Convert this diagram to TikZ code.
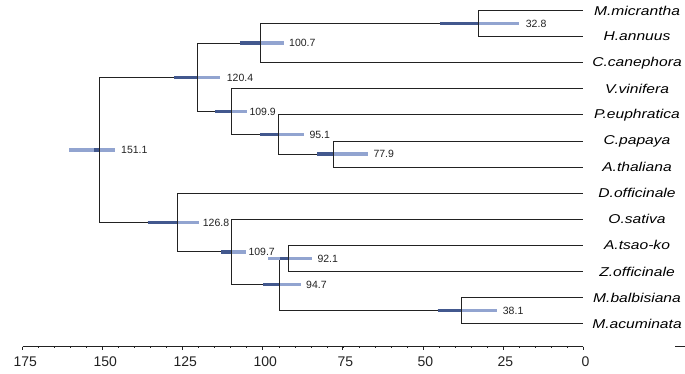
\documentclass[tikz,border=0pt]{standalone}
\usepackage{fontspec}
\setmainfont{Liberation Sans}
\usepackage{graphicx}
\definecolor{barlight}{RGB}{146,164,208}
\definecolor{bardark}{RGB}{66,88,142}
\definecolor{treeline}{RGB}{34,34,34}
\begin{document}
\begin{tikzpicture}[x=1pt,y=-1pt,
  branch/.style={draw=treeline,line width=0.85pt},
  leaflabel/.style={anchor=center,inner sep=0pt,font=\fontsize{12.8}{14}\selectfont\itshape,text=black},
  agelabel/.style={anchor=west,inner sep=0pt,font=\fontsize{10.5}{12}\selectfont,text=treeline},
  ticklabel/.style={anchor=center,inner sep=0pt,font=\fontsize{14}{16}\selectfont,text=treeline},
  hpdlight/.style={draw=barlight,line width=3.2pt},
  hpddark/.style={draw=bardark,line width=3.2pt}]
\useasboundingbox (0,0) rectangle (685,374);

% leaves
\foreach \nm/\txt/\i in {mm/M.micrantha/0, ha/H.annuus/1, cc/C.canephora/2, vv/V.vinifera/3,
  pe/P.euphratica/4, cp/C.papaya/5, at/A.thaliana/6, do/D.officinale/7, os/O.sativa/8,
  tk/A.tsao-ko/9, zo/Z.officinale/10, mb/M.balbisiana/11, ma/M.acuminata/12}{
  \coordinate (\nm-e) at (583,{10.5+26.1*\i});
  \node[leaflabel] (\nm) at (637,{10.5+26.1*\i}) {\scalebox{1.22}[1]{\txt}};
}

% internal nodes
\coordinate (n328)  at (478.0,23.55);
\coordinate (n1007) at (260.6,43.1);
\coordinate (n779)  at (333.6,154.05);
\coordinate (n951)  at (278.5,134.5);
\coordinate (n1099) at (231.1,111.65);
\coordinate (n1204) at (197.5,77.4);
\coordinate (n381)  at (461.0,310.65);
\coordinate (n921)  at (288.1,258.45);
\coordinate (n947)  at (279.8,284.55);
\coordinate (n1097) at (231.7,251.9);
\coordinate (n1268) at (177.0,222.55);
\coordinate (n1511) at (99.2,150.0);

% tree connectors
\draw[branch] (n328) |- (mm-e);
\draw[branch] (n328) |- (ha-e);
\draw[branch] (n1007) |- (n328);
\draw[branch] (n1007) |- (cc-e);
\draw[branch] (n779) |- (cp-e);
\draw[branch] (n779) |- (at-e);
\draw[branch] (n951) |- (pe-e);
\draw[branch] (n951) |- (n779);
\draw[branch] (n1099) |- (vv-e);
\draw[branch] (n1099) |- (n951);
\draw[branch] (n1204) |- (n1007);
\draw[branch] (n1204) |- (n1099);
\draw[branch] (n381) |- (mb-e);
\draw[branch] (n381) |- (ma-e);
\draw[branch] (n921) |- (tk-e);
\draw[branch] (n921) |- (zo-e);
\draw[branch] (n947) |- (n921);
\draw[branch] (n947) |- (n381);
\draw[branch] (n1097) |- (os-e);
\draw[branch] (n1097) |- (n947);
\draw[branch] (n1268) |- (do-e);
\draw[branch] (n1268) |- (n1097);
\draw[branch] (n1511) |- (n1204);
\draw[branch] (n1511) |- (n1268);

% HPD bars (drawn over the branches; node tick redrawn on top)
\newcommand{\hpdbar}[5]{%
  \draw[hpdlight] (#2,#1) -- (#3,#1);
  \draw[hpddark] (#4,#1) -- (#5,#1);
  \draw[branch] (#5,#1-2) -- (#5,#1+2);
}
\hpdbar{23.55}{440}{519.3}{440}{478}
\hpdbar{43.1}{240}{284}{240}{260.6}
\hpdbar{77.4}{174}{220}{174}{197.5}
\hpdbar{111.65}{215}{247.3}{215}{231.1}
\hpdbar{134.5}{260}{304}{260}{278.5}
\hpdbar{154.05}{317.3}{368.3}{317.3}{333.6}
\hpdbar{150.0}{69.3}{115}{94}{99.2}
\hpdbar{222.55}{147.7}{199}{147.7}{177}
\hpdbar{251.9}{221}{245.7}{221}{231.7}
\hpdbar{258.45}{268.3}{312.3}{279.8}{288.1}
\hpdbar{284.55}{263.3}{300.7}{263.3}{279.8}
\hpdbar{310.65}{437.7}{496.7}{437.7}{461}

% age labels
\node[agelabel] (a328)  at (525.7,23.55) {32.8};
\node[agelabel] (a1007) at (289,43.1) {100.7};
\node[agelabel] (a1204) at (226.7,77.4) {120.4};
\node[agelabel] (a1099) at (249.3,111.65) {109.9};
\node[agelabel] (a951)  at (309.3,134.5) {95.1};
\node[agelabel] (a779)  at (373.3,154.05) {77.9};
\node[agelabel] (a1511) at (121,150.0) {151.1};
\node[agelabel] (a1268) at (202.7,222.55) {126.8};
\node[agelabel] (a1097) at (248.3,251.9) {109.7};
\node[agelabel] (a921)  at (317.3,258.45) {92.1};
\node[agelabel] (a947)  at (306,284.55) {94.7};
\node[agelabel] (a381)  at (502.7,310.65) {38.1};

% axis
\coordinate (ax0) at (22.7,346.7);
\coordinate (ax1) at (583,346.7);
\draw[branch] (ax0) -- (ax1);
\foreach \t in {0,5,...,175}{
  \draw[draw=treeline,line width=0.7pt] ({583-3.2016*\t},346.7) -- ++(0,1.6);
}
\foreach \t in {0,25,...,175}{
  \draw[draw=treeline,line width=0.8pt] ({583-3.2016*\t},346.7) -- ++(0,3);
  \node[ticklabel] at ({585.5-3.2016*\t},361.7) {\t};
}
\coordinate (sb0) at (675,346.7);
\coordinate (sb1) at (685,346.7);
\draw[draw=treeline,line width=0.9pt] (sb0) -- (sb1);
\end{tikzpicture}
\end{document}
